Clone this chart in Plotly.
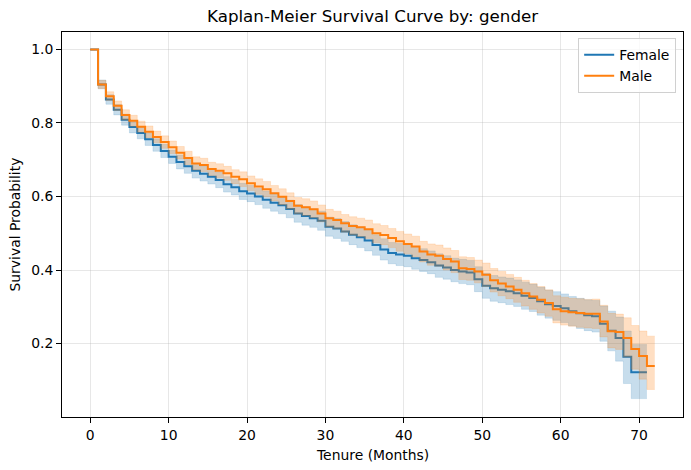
import plotly.graph_objects as go

# ---------------- data ----------------
female_t = list(range(0, 72))  # 0..71 (last point repeats final value)
female_s = [1.000, 0.905, 0.864, 0.836, 0.809, 0.789, 0.773, 0.756, 0.740, 0.724,
            0.708, 0.694, 0.682, 0.670, 0.662, 0.654, 0.645, 0.633, 0.625, 0.614,
            0.608, 0.600, 0.591, 0.583, 0.576, 0.566, 0.554, 0.547, 0.541, 0.534,
            0.518, 0.513, 0.505, 0.496, 0.489, 0.480, 0.468, 0.456, 0.446, 0.442,
            0.439, 0.432, 0.427, 0.421, 0.412, 0.407, 0.400, 0.396, 0.393, 0.375,
            0.357, 0.350, 0.346, 0.342, 0.337, 0.330, 0.324, 0.315, 0.307, 0.302,
            0.296, 0.288, 0.282, 0.277, 0.274, 0.254, 0.235, 0.215, 0.164, 0.122,
            0.122, 0.122]
female_lo = [1.000, 0.893, 0.851, 0.822, 0.794, 0.773, 0.757, 0.739, 0.723, 0.706,
             0.690, 0.675, 0.663, 0.650, 0.642, 0.634, 0.624, 0.612, 0.604, 0.592,
             0.586, 0.578, 0.568, 0.560, 0.553, 0.542, 0.530, 0.522, 0.516, 0.508,
             0.492, 0.486, 0.478, 0.469, 0.461, 0.452, 0.440, 0.427, 0.417, 0.412,
             0.409, 0.402, 0.396, 0.390, 0.380, 0.375, 0.368, 0.363, 0.360, 0.341,
             0.323, 0.315, 0.311, 0.306, 0.301, 0.293, 0.287, 0.277, 0.269, 0.263,
             0.257, 0.248, 0.241, 0.235, 0.231, 0.206, 0.180, 0.152, 0.091, 0.050,
             0.050, 0.050]
female_hi = [1.000, 0.917, 0.877, 0.850, 0.824, 0.805, 0.789, 0.773, 0.757, 0.742,
             0.726, 0.713, 0.701, 0.690, 0.682, 0.674, 0.666, 0.654, 0.646, 0.636,
             0.630, 0.622, 0.614, 0.606, 0.599, 0.590, 0.578, 0.572, 0.566, 0.560,
             0.544, 0.540, 0.532, 0.523, 0.517, 0.508, 0.496, 0.485, 0.475, 0.472,
             0.469, 0.462, 0.458, 0.452, 0.444, 0.439, 0.432, 0.429, 0.426, 0.409,
             0.391, 0.385, 0.381, 0.378, 0.373, 0.367, 0.361, 0.353, 0.345, 0.341,
             0.335, 0.328, 0.323, 0.319, 0.317, 0.302, 0.288, 0.272, 0.234, 0.197,
             0.197, 0.197]

male_t = list(range(0, 73))  # 0..72
male_s = [1.000, 0.905, 0.873, 0.847, 0.822, 0.806, 0.790, 0.776, 0.762, 0.748,
          0.734, 0.719, 0.705, 0.690, 0.686, 0.675, 0.670, 0.663, 0.654, 0.647,
          0.636, 0.627, 0.620, 0.609, 0.599, 0.588, 0.575, 0.571, 0.565, 0.554,
          0.541, 0.536, 0.527, 0.520, 0.516, 0.511, 0.500, 0.495, 0.487, 0.478,
          0.471, 0.464, 0.450, 0.442, 0.439, 0.430, 0.423, 0.405, 0.403, 0.396,
          0.387, 0.372, 0.363, 0.355, 0.346, 0.337, 0.328, 0.319, 0.310, 0.293,
          0.288, 0.285, 0.283, 0.281, 0.281, 0.260, 0.233, 0.231, 0.215, 0.185,
          0.166, 0.139, 0.139]
male_lo = [1.000, 0.894, 0.861, 0.834, 0.808, 0.791, 0.775, 0.760, 0.746, 0.731,
           0.717, 0.702, 0.687, 0.672, 0.668, 0.657, 0.651, 0.644, 0.635, 0.627,
           0.616, 0.606, 0.599, 0.588, 0.577, 0.566, 0.553, 0.548, 0.542, 0.531,
           0.517, 0.512, 0.503, 0.495, 0.491, 0.486, 0.474, 0.469, 0.461, 0.451,
           0.444, 0.436, 0.422, 0.413, 0.410, 0.400, 0.393, 0.374, 0.372, 0.365,
           0.355, 0.340, 0.330, 0.322, 0.312, 0.302, 0.293, 0.283, 0.274, 0.256,
           0.250, 0.247, 0.244, 0.242, 0.241, 0.218, 0.188, 0.184, 0.163, 0.130,
           0.103, 0.075, 0.075]
male_hi = [1.000, 0.916, 0.885, 0.860, 0.836, 0.821, 0.805, 0.792, 0.778, 0.765,
           0.751, 0.736, 0.723, 0.708, 0.704, 0.693, 0.689, 0.682, 0.673, 0.667,
           0.656, 0.648, 0.641, 0.630, 0.621, 0.610, 0.597, 0.594, 0.588, 0.577,
           0.565, 0.560, 0.551, 0.545, 0.541, 0.536, 0.526, 0.521, 0.513, 0.505,
           0.498, 0.492, 0.478, 0.471, 0.468, 0.460, 0.453, 0.436, 0.434, 0.427,
           0.419, 0.404, 0.396, 0.388, 0.380, 0.372, 0.363, 0.355, 0.346, 0.330,
           0.326, 0.323, 0.322, 0.320, 0.321, 0.304, 0.282, 0.280, 0.270, 0.249,
           0.234, 0.220, 0.220]

x_ticks = [0, 10, 20, 30, 40, 50, 60, 70]
y_ticks = [0.2, 0.4, 0.6, 0.8, 1.0]
y_tick_labels = ["0.2", "0.4", "0.6", "0.8", "1.0"]

BLUE = "#1f77b4"
ORANGE = "#ff7f0e"
FONT = "DejaVu Sans"

fig = go.Figure()


def add_group(t, s, lo, hi, name, color, rgba):
    fig.add_trace(go.Scatter(x=t, y=hi, mode="lines", line=dict(width=0.6, color=rgba, shape="hv"),
                             showlegend=False, hoverinfo="skip"))
    fig.add_trace(go.Scatter(x=t, y=lo, mode="lines", line=dict(width=0.6, color=rgba, shape="hv"),
                             fill="tonexty", fillcolor=rgba, showlegend=False, hoverinfo="skip"))
    fig.add_trace(go.Scatter(x=t, y=s, mode="lines", name=name,
                             line=dict(width=2, color=color, shape="hv")))


add_group(female_t, female_s, female_lo, female_hi, "Female", BLUE, "rgba(31,119,180,0.25)")
add_group(male_t, male_s, male_lo, male_hi, "Male", ORANGE, "rgba(255,127,14,0.25)")

axis_common = dict(
    showline=True, linecolor="black", linewidth=1, mirror=True,
    ticks="outside", ticklen=5, tickwidth=1, tickcolor="black",
    showgrid=True, gridcolor="rgba(176,176,176,0.3)", gridwidth=1,
    zeroline=False, tickfont=dict(family=FONT, size=13.9, color="black"),
)

fig.update_layout(
    width=691, height=470,
    margin=dict(l=62, r=8, t=32, b=53),
    paper_bgcolor="white", plot_bgcolor="white",
    font=dict(family=FONT, size=13.9, color="black"),
    xaxis=dict(range=[-3.6, 75.6], tickvals=x_ticks, **axis_common),
    yaxis=dict(range=[0.0, 1.0476], tickvals=y_ticks, ticktext=y_tick_labels, **axis_common),
    showlegend=True,
    legend=dict(x=0.989, y=0.984, xanchor="right", yanchor="top", traceorder="normal",
                bgcolor="rgba(255,255,255,0.8)", bordercolor="#d0d0d0", borderwidth=1,
                font=dict(family=FONT, size=13.9, color="black")),
    annotations=[
        dict(text="Kaplan-Meier Survival Curve by: gender", xref="paper", yref="paper",
             x=0.5, y=1.0, yshift=4, xanchor="center", yanchor="bottom", showarrow=False,
             font=dict(family=FONT, size=16.7, color="black")),
        dict(text="Tenure (Months)", xref="paper", yref="paper", x=0.5, y=0, yshift=-28,
             xanchor="center", yanchor="top", showarrow=False,
             font=dict(family=FONT, size=13.9, color="black")),
        dict(text="Survival Probability", xref="paper", yref="paper", x=0, y=0.5, xshift=-38,
             xanchor="right", yanchor="middle", textangle=-90, showarrow=False,
             font=dict(family=FONT, size=13.9, color="black")),
    ],
)

fig.write_html("out.html")
